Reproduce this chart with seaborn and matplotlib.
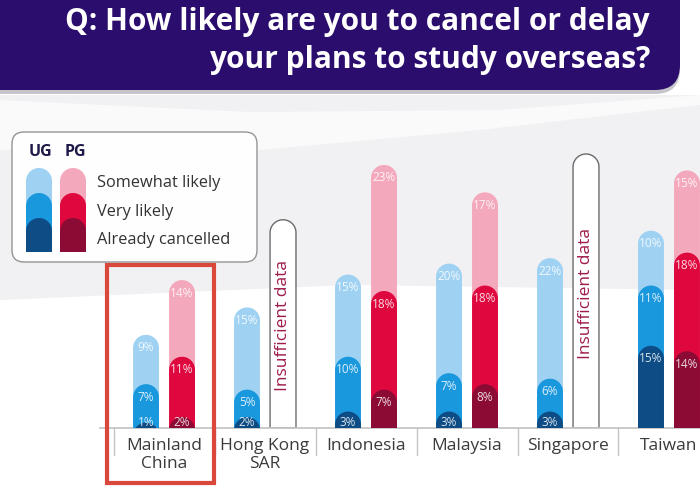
import numpy as np
import pandas as pd
import seaborn as sns
import matplotlib.pyplot as plt
from matplotlib.patches import Polygon, FancyBboxPatch, Rectangle

countries = ['Mainland\nChina', 'Hong Kong\nSAR', 'Indonesia', 'Malaysia', 'Singapore', 'Taiwan']
levels = ['UG', 'PG']
ug_cancelled = [1, 2, 3, 3, 3, 15]
ug_very = [7, 5, 10, 7, 6, 11]
ug_somewhat = [9, 15, 15, 20, 22, 10]
pg_cancelled = [2, np.nan, 7, 8, np.nan, 14]
pg_very = [11, np.nan, 18, 18, np.nan, 18]
pg_somewhat = [14, np.nan, 23, 17, np.nan, 15]
# empty pills shown where the PG sample was too small
insufficient = [np.nan, 38, np.nan, np.nan, 50, np.nan]

legend_labels = ['Somewhat likely', 'Very likely', 'Already cancelled']
colors = {
    'somewhat': {'UG': '#9fd2f2', 'PG': '#f4a8bc'},
    'very': {'UG': '#1a98de', 'PG': '#df083e'},
    'cancelled': {'UG': '#0d4c85', 'PG': '#8b0b35'},
}

rows = []
for i, c in enumerate(countries):
    for lvl, a, b, s in [('UG', ug_cancelled, ug_very, ug_somewhat),
                         ('PG', pg_cancelled, pg_very, pg_somewhat)]:
        rows.append({'country': c, 'level': lvl,
                     'cancelled': a[i], 'very': b[i], 'somewhat': s[i],
                     'cum_cancelled': a[i], 'cum_very': a[i] + b[i],
                     'cum_somewhat': a[i] + b[i] + s[i]})
df = pd.DataFrame(rows)

sns.set_theme(style='white')
plt.rcParams['font.family'] = ['Open Sans', 'DejaVu Sans']

fig = plt.figure(figsize=(7, 5), dpi=100)
fig.patch.set_facecolor('white')

# soft grey background band
def px(x, y):
    return (x / 700, 1 - y / 500)

band = Polygon([px(0, 95), px(700, 95), px(700, 290), px(350, 285), px(0, 300)],
               closed=True, transform=fig.transFigure, fc='#f1f1f3', ec='none', zorder=-2)
fig.patches.append(band)
swoosh = Polygon([px(0, 100), px(250, 112), px(500, 110), px(700, 95), px(700, 105),
                  px(480, 130), px(260, 150), px(0, 150)],
                 closed=True, transform=fig.transFigure, fc='#fafafa', ec='none', zorder=-1)
fig.patches.append(swoosh)

ax = fig.add_axes([100 / 700, 72 / 500, 600 / 700, 328 / 500])
ax.set_facecolor('none')
ax.set_zorder(1)

px_per_y = 5.48
ylim = (0, 328 / px_per_y)
xlim = (-0.634, 5.307)
px_per_x = 600 / (xlim[1] - xlim[0])

group_w = 0.713
gap = 0.28


def pill(x0, w, h, ry, base):
    t = np.linspace(np.pi, 0, 40)
    cx = x0 + w / 2
    arc = np.column_stack([cx + w / 2 * np.cos(t), h - ry + ry * np.sin(t)])
    return np.vstack([[x0, base], arc, [x0 + w, base]])


z = 2
for layer, col in [('somewhat', 'cum_somewhat'), ('very', 'cum_very'),
                   ('cancelled', 'cum_cancelled')]:
    n0 = len(ax.patches)
    sns.barplot(data=df, x='country', y=col, hue='level', hue_order=levels,
                order=countries, palette=colors[layer], width=group_w, gap=gap,
                saturation=1, dodge=True, legend=False, errorbar=None, ax=ax)
    new = ax.patches[n0:]
    for r in list(new):
        h = r.get_height()
        x0, w = r.get_x(), r.get_width()
        fc = r.get_facecolor()
        r.remove()
        if np.isnan(h) or h <= 0:
            continue
        ry = (w / 2) * px_per_x / px_per_y
        ax.add_patch(Polygon(pill(x0, w, h, ry, -5), closed=True, fc=fc,
                             ec='none', zorder=z))
        cx = x0 + w / 2
        i = int(round(cx))
        lvl = 'UG' if cx < i else 'PG'
        val = df[(df.country == countries[i]) & (df.level == lvl)][layer].iloc[0]
        ty = max(h - 13 / px_per_y, 6 / px_per_y)
        ax.text(cx, ty, f'{int(val)}%', ha='center', va='center', fontsize=8.5,
                color='white', alpha=0.85, zorder=z + 0.5)
    z += 1

# insufficient data placeholders
bar_w = group_w / 2 * (1 - gap)
ry = (bar_w / 2) * px_per_x / px_per_y
for i, h in enumerate(insufficient):
    if np.isnan(h):
        continue
    cx = i + group_w / 4
    ax.add_patch(Polygon(pill(cx - bar_w / 2, bar_w, h, ry, 0), closed=True,
                         fc='white', ec='#6b6b6b', lw=1, zorder=2))
    ax.text(cx, h * 0.49, 'Insufficient data', rotation=90, ha='center',
            va='center', fontsize=12.5, color='#9e1a4c', zorder=3)

# seaborn resets the limits, so set them last
ax.set_xlim(*xlim)
ax.set_ylim(*ylim)

# axis styling
for s in ['top', 'right', 'left']:
    ax.spines[s].set_visible(False)
ax.spines['bottom'].set_color('#c4c4c4')
ax.set_xlabel('')
ax.set_ylabel('')
ax.set_yticks([])
ax.tick_params(axis='x', length=0, pad=7, labelsize=12.5, labelcolor='#3a3a3a')

for i in range(-1, len(countries) - 1):
    ax.plot([i + 0.5, i + 0.5], [0, -27 / px_per_y], color='#c4c4c4', lw=1,
            clip_on=False, zorder=1)

ax.add_patch(Rectangle((-0.565, -55 / px_per_y), 1.06, 218 / px_per_y, fill=False,
                       ec='#d9483b', lw=3, clip_on=False, zorder=6))

# title banner
inch = fig.dpi_scale_trans
fig.patches.append(FancyBboxPatch((-0.3, 4.06), 7.1, 1.3,
                                  boxstyle='round,pad=0,rounding_size=0.25',
                                  transform=inch, fc='#8c8c96', ec='none', alpha=0.5, zorder=2))
fig.patches.append(FancyBboxPatch((-0.3, 4.1), 7.1, 1.3,
                                  boxstyle='round,pad=0,rounding_size=0.25',
                                  transform=inch, fc='#2a0d6c', ec='none', zorder=2.1))
fig.text(650 / 700, 1 - 22 / 500, 'Q: How likely are you to cancel or delay',
         ha='right', va='center', fontsize=21.5, fontweight='bold', color='white',
         zorder=3)
fig.text(650 / 700, 1 - 60 / 500, 'your plans to study overseas?',
         ha='right', va='center', fontsize=21.5, fontweight='bold', color='white',
         zorder=3)

# legend box
fig.patches.append(FancyBboxPatch((0.12, 2.38), 2.45, 1.30,
                                  boxstyle='round,pad=0,rounding_size=0.12',
                                  transform=inch, fc='white', ec='#8f8f8f', lw=1,
                                  alpha=0.95, zorder=3))
fig.text(40 / 700, 1 - 152 / 500, 'UG', ha='center', va='center', fontsize=11.5,
         fontweight='bold', color='#1d1a4a', zorder=5)
fig.text(75 / 700, 1 - 152 / 500, 'PG', ha='center', va='center', fontsize=11.5,
         fontweight='bold', color='#1d1a4a', zorder=5)
tops = [3.32, 3.07, 2.82]
for col_x, lvl in [(0.26, 'UG'), (0.60, 'PG')]:
    for top, layer in zip(tops, ['somewhat', 'very', 'cancelled']):
        fig.patches.append(Polygon(pill(col_x, 0.26, top, 0.13, 2.48), closed=True,
                                   transform=inch, fc=colors[layer][lvl], ec='none',
                                   zorder=4))
for y, lab in zip([183, 212, 240], legend_labels):
    fig.text(97 / 700, 1 - y / 500, lab, ha='left', va='center', fontsize=11.8,
             color='#333333', zorder=5)

fig.savefig('out.png', dpi=100)
